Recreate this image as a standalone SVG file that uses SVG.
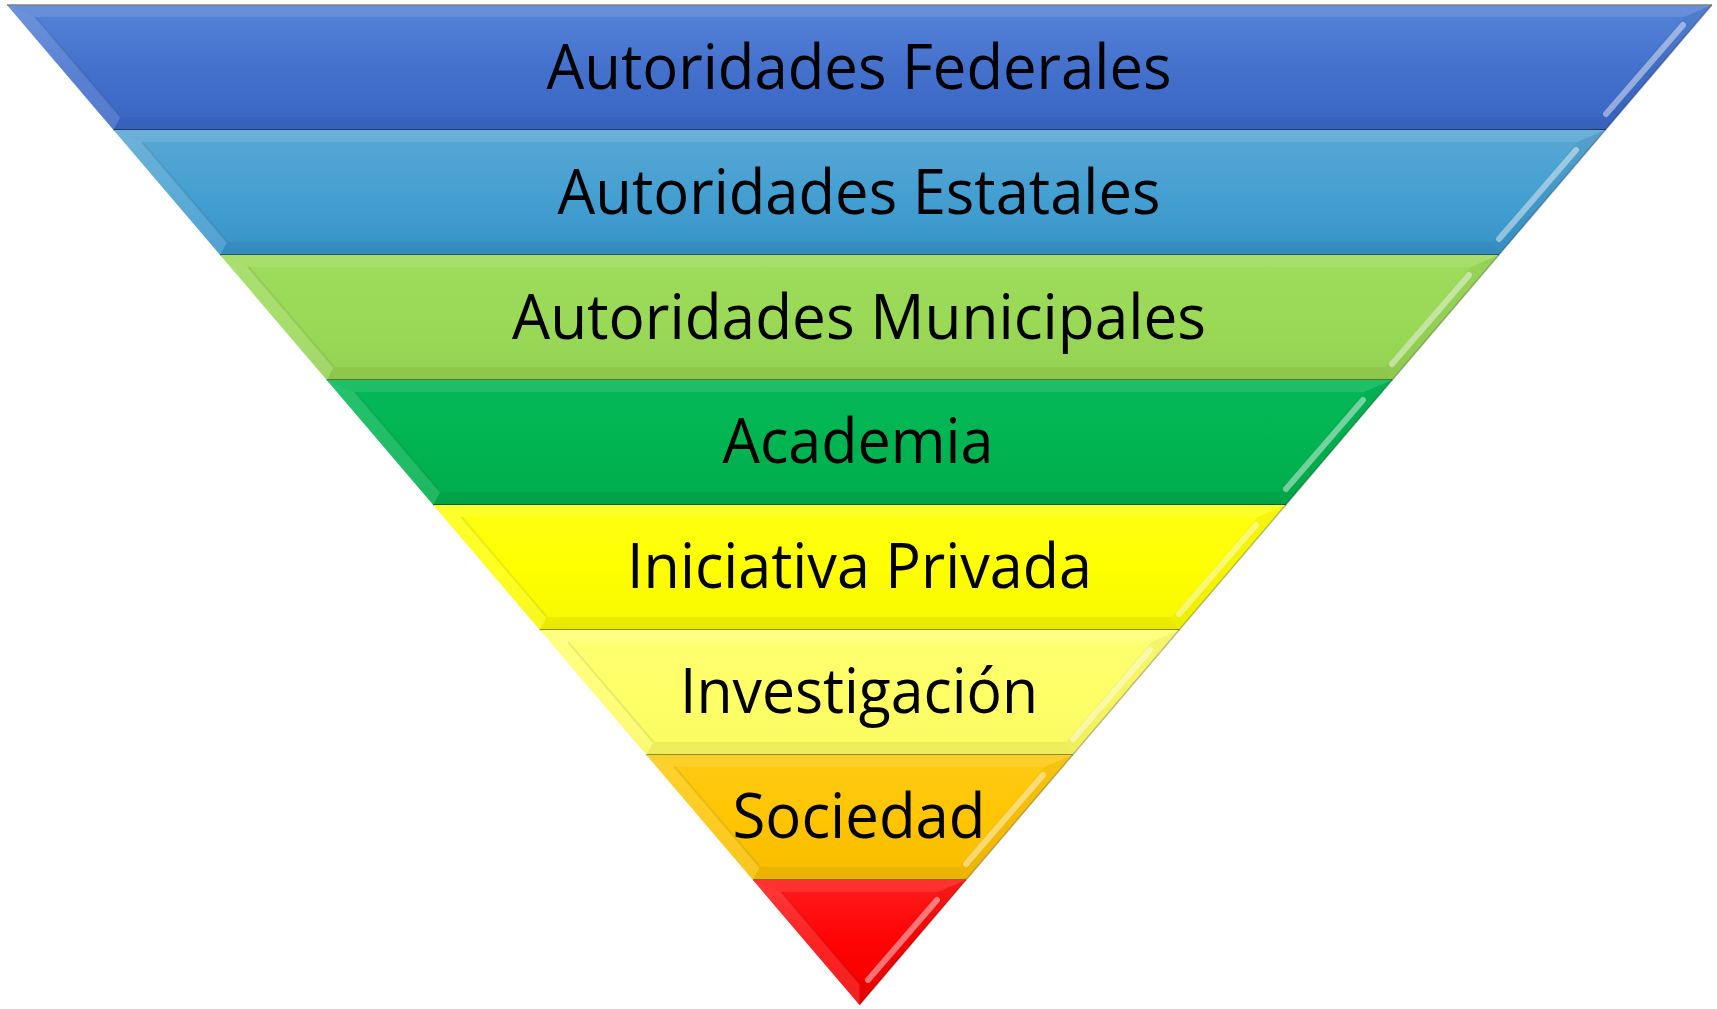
<svg xmlns="http://www.w3.org/2000/svg" width="1717" height="1009" viewBox="0 0 1717 1009">
<style>
.top{fill:#fff;fill-opacity:.10}
.lft{fill:#fff;fill-opacity:.13}
.rgt{fill:#000;fill-opacity:.04}
.bot{fill:#000;fill-opacity:.05}
.inl{stroke:#000;stroke-opacity:.08;stroke-width:2;fill:none}
.hl{stroke:#fff;stroke-opacity:.45;stroke-width:6;stroke-linecap:round;fill:none}
.edge{stroke:#000;stroke-opacity:.4;stroke-width:2;fill:none}
.oedge{stroke:#000;stroke-opacity:.25;stroke-width:1.5;fill:none}
.lbl{font-family:"Open Sans","Noto Sans","Liberation Sans",sans-serif;font-size:62px;fill:#000;text-anchor:middle}
</style>
<defs>
<linearGradient id="g1" x1="0" y1="0" x2="0" y2="1"><stop offset="0" stop-color="#5784d8"/><stop offset=".5" stop-color="#4471cc"/><stop offset="1" stop-color="#3966c4"/></linearGradient>
<linearGradient id="g2" x1="0" y1="0" x2="0" y2="1"><stop offset="0" stop-color="#5aa7d3"/><stop offset=".5" stop-color="#45a0d2"/><stop offset="1" stop-color="#3792c8"/></linearGradient>
<linearGradient id="g3" x1="0" y1="0" x2="0" y2="1"><stop offset="0" stop-color="#9edb5c"/><stop offset=".5" stop-color="#9ada57"/><stop offset="1" stop-color="#94d251"/></linearGradient>
<linearGradient id="g4" x1="0" y1="0" x2="0" y2="1"><stop offset="0" stop-color="#06b858"/><stop offset=".5" stop-color="#00b551"/><stop offset="1" stop-color="#00ac4c"/></linearGradient>
<linearGradient id="g5" x1="0" y1="0" x2="0" y2="1"><stop offset="0" stop-color="#ffff12"/><stop offset=".5" stop-color="#ffff00"/><stop offset="1" stop-color="#f7f700"/></linearGradient>
<linearGradient id="g6" x1="0" y1="0" x2="0" y2="1"><stop offset="0" stop-color="#ffff74"/><stop offset=".5" stop-color="#ffff66"/><stop offset="1" stop-color="#f9f962"/></linearGradient>
<linearGradient id="g7" x1="0" y1="0" x2="0" y2="1"><stop offset="0" stop-color="#ffcb14"/><stop offset=".5" stop-color="#ffc502"/><stop offset="1" stop-color="#f6bd00"/></linearGradient>
<linearGradient id="g8" x1="0" y1="0" x2="0" y2="1"><stop offset="0" stop-color="#ff1c1c"/><stop offset=".5" stop-color="#ff0303"/><stop offset="1" stop-color="#f00000"/></linearGradient>
</defs>

<g id="level-1">
<polygon points="7,5 1712,5 1605.44,130 113.56,130" fill="url(#g1)"/>
<polygon class="top" points="7,5 1712,5 1683.77,17 35.23,17"/>
<polygon class="lft" points="7,5 35.23,17 120.48,117 113.56,130"/>
<polygon class="rgt" points="1712,5 1605.44,130 1598.52,117 1683.77,17"/>
<polygon class="bot" points="113.56,130 1605.44,130 1598.52,117 120.48,117"/>
<line class="inl" x1="35.23" y1="17" x2="120.48" y2="117"/>
<line class="hl" x1="1683" y1="25" x2="1606" y2="114"/>
<line class="edge" x1="113.56" y1="130" x2="1605.44" y2="130"/>
<line x1="7" y1="5" x2="1712" y2="5" stroke="#808080" stroke-width="1.5"/>
<text class="lbl" x="859" y="89" textLength="625" lengthAdjust="spacingAndGlyphs">Autoridades Federales</text>
</g>

<g id="level-2">
<polygon points="113.56,130 1605.44,130 1498.87,255 220.13,255" fill="url(#g2)"/>
<polygon class="top" points="113.56,130 1605.44,130 1577.21,142 141.79,142"/>
<polygon class="lft" points="113.56,130 141.79,142 227.04,242 220.13,255"/>
<polygon class="rgt" points="1605.44,130 1498.87,255 1491.96,242 1577.21,142"/>
<polygon class="bot" points="220.13,255 1498.87,255 1491.96,242 227.04,242"/>
<line class="inl" x1="141.79" y1="142" x2="227.04" y2="242"/>
<line class="hl" x1="1576" y1="150" x2="1499" y2="239"/>
<line class="edge" x1="220.13" y1="255" x2="1498.87" y2="255"/>
<text class="lbl" x="859" y="214" textLength="603" lengthAdjust="spacingAndGlyphs">Autoridades Estatales</text>
</g>

<g id="level-3">
<polygon points="220.13,255 1498.87,255 1392.31,380 326.69,380" fill="url(#g3)"/>
<polygon class="top" points="220.13,255 1498.87,255 1470.64,267 248.36,267"/>
<polygon class="lft" points="220.13,255 248.36,267 333.61,367 326.69,380"/>
<polygon class="rgt" points="1498.87,255 1392.31,380 1385.39,367 1470.64,267"/>
<polygon class="bot" points="326.69,380 1392.31,380 1385.39,367 333.61,367"/>
<line class="inl" x1="248.36" y1="267" x2="333.61" y2="367"/>
<line class="hl" x1="1469" y1="275" x2="1392" y2="364"/>
<line class="edge" x1="326.69" y1="380" x2="1392.31" y2="380"/>
<text class="lbl" x="859" y="339" textLength="694" lengthAdjust="spacingAndGlyphs">Autoridades Municipales</text>
</g>

<g id="level-4">
<polygon points="326.69,380 1392.31,380 1285.75,505 433.25,505" fill="url(#g4)"/>
<polygon class="top" points="326.69,380 1392.31,380 1364.08,392 354.92,392"/>
<polygon class="lft" points="326.69,380 354.92,392 440.17,492 433.25,505"/>
<polygon class="rgt" points="1392.31,380 1285.75,505 1278.83,492 1364.08,392"/>
<polygon class="bot" points="433.25,505 1285.75,505 1278.83,492 440.17,492"/>
<line class="inl" x1="354.92" y1="392" x2="440.17" y2="492"/>
<line class="hl" x1="1363" y1="400" x2="1286" y2="489"/>
<line class="edge" x1="433.25" y1="505" x2="1285.75" y2="505"/>
<text class="lbl" x="858" y="463" textLength="271" lengthAdjust="spacingAndGlyphs">Academia</text>
</g>

<g id="level-5">
<polygon points="433.25,505 1285.75,505 1179.19,630 539.81,630" fill="url(#g5)"/>
<polygon class="top" points="433.25,505 1285.75,505 1257.52,517 461.48,517"/>
<polygon class="lft" points="433.25,505 461.48,517 546.73,617 539.81,630"/>
<polygon class="rgt" points="1285.75,505 1179.19,630 1172.27,617 1257.52,517"/>
<polygon class="bot" points="539.81,630 1179.19,630 1172.27,617 546.73,617"/>
<line class="inl" x1="461.48" y1="517" x2="546.73" y2="617"/>
<line class="hl" x1="1256" y1="525" x2="1179" y2="614"/>
<line class="edge" x1="539.81" y1="630" x2="1179.19" y2="630"/>
<text class="lbl" x="859.5" y="588" textLength="465" lengthAdjust="spacingAndGlyphs">Iniciativa Privada</text>
</g>

<g id="level-6">
<polygon points="539.81,630 1179.19,630 1072.62,755 646.38,755" fill="url(#g6)"/>
<polygon class="top" points="539.81,630 1179.19,630 1150.96,642 568.04,642"/>
<polygon class="lft" points="539.81,630 568.04,642 653.29,742 646.38,755"/>
<polygon class="rgt" points="1179.19,630 1072.62,755 1065.71,742 1150.96,642"/>
<polygon class="bot" points="646.38,755 1072.62,755 1065.71,742 653.29,742"/>
<line class="inl" x1="568.04" y1="642" x2="653.29" y2="742"/>
<line class="hl" x1="1150" y1="650" x2="1073" y2="739"/>
<line class="edge" x1="646.38" y1="755" x2="1072.62" y2="755"/>
<text class="lbl" x="859" y="713" textLength="358" lengthAdjust="spacingAndGlyphs">Investigación</text>
</g>

<g id="level-7">
<polygon points="646.38,755 1072.62,755 966.06,880 752.94,880" fill="url(#g7)"/>
<polygon class="top" points="646.38,755 1072.62,755 1044.39,767 674.61,767"/>
<polygon class="lft" points="646.38,755 674.61,767 759.86,867 752.94,880"/>
<polygon class="rgt" points="1072.62,755 966.06,880 959.14,867 1044.39,767"/>
<polygon class="bot" points="752.94,880 966.06,880 959.14,867 759.86,867"/>
<line class="inl" x1="674.61" y1="767" x2="759.86" y2="867"/>
<line class="hl" x1="1043" y1="775" x2="966" y2="864"/>
<line class="edge" x1="752.94" y1="880" x2="966.06" y2="880"/>
<text class="lbl" x="859" y="838" textLength="253" lengthAdjust="spacingAndGlyphs">Sociedad</text>
</g>

<g id="level-8">
<polygon points="752.94,880 966.06,880 859.5,1005" fill="url(#g8)"/>
<polygon class="top" points="752.94,880 966.06,880 937.83,892 781.17,892"/>
<polygon class="lft" points="752.94,880 781.17,892 859.5,984 859.5,1005"/>
<polygon class="rgt" points="966.06,880 859.5,1005 859.5,984 937.83,892"/>
<line class="inl" x1="781.17" y1="892" x2="859.5" y2="984"/>
<line class="hl" x1="937" y1="900" x2="868" y2="980"/>
</g>

<g id="outline">
<line class="oedge" x1="1712" y1="5" x2="859.5" y2="1005"/>
</g>
</svg>
